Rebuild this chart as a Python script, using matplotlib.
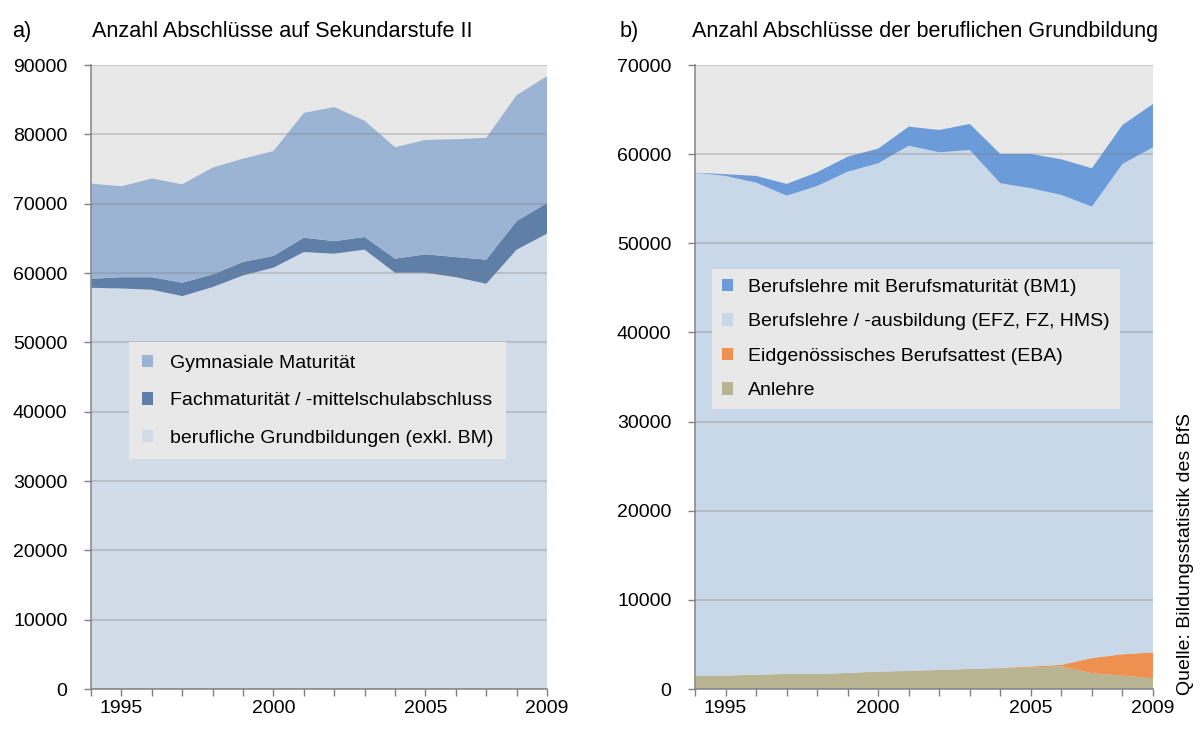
import matplotlib.pyplot as plt
import numpy as np

# Daten
jahre = list(range(1994, 2010))

# a) Sekundarstufe II - kumulierte Obergrenzen
beruf_top = [57870, 57770, 57590, 56670, 57970, 59650, 60770, 63030,
             62790, 63370, 60040, 60040, 59400, 58450, 63370, 65680]
fach_top = [59170, 59400, 59400, 58600, 59800, 61600, 62470, 65100,
            64600, 65200, 62070, 62700, 62300, 61920, 67500, 70100]
gym_top = [72900, 72500, 73630, 72800, 75200, 76500, 77600, 83100,
           83930, 81960, 78150, 79200, 79300, 79500, 85660, 88400]

# b) berufliche Grundbildung - Einzelwerte
anlehre = [1500, 1500, 1600, 1690, 1690, 1800, 1950, 2030,
           2140, 2250, 2330, 2400, 2560, 1770, 1500, 1200]
eba = [0, 0, 0, 0, 0, 0, 0, 0, 0, 0, 30, 120, 150, 1700, 2400, 2900]
lehre_top = [57930, 57560, 56810, 55350, 56430, 58040, 58980, 60950,
             60210, 60470, 56740, 56180, 55430, 54120, 58900, 60770]
bm1_top = [57930, 57750, 57560, 56660, 57970, 59720, 60620, 63090,
           62710, 63390, 60020, 60020, 59420, 58420, 63270, 65630]

x = np.array(jahre)
beruf = np.array(beruf_top)
fach = np.array(fach_top) - beruf
gym = np.array(gym_top) - np.array(fach_top)
lehre = np.array(lehre_top) - np.array(anlehre) - np.array(eba)
bm1 = np.array(bm1_top) - np.array(lehre_top)

plt.rcParams['font.family'] = ['Liberation Sans', 'DejaVu Sans']

fig = plt.figure(figsize=(12.01, 7.34), dpi=100)
ax1 = fig.add_axes([0.0758, 0.0613, 0.3797, 0.8501])
ax2 = fig.add_axes([0.5787, 0.0613, 0.3813, 0.8501])

fs_tick = 14
fs_leg = 14


def formatear(ax, ymax, ystep):
    ax.set_facecolor('#e8e8e8')
    ax.set_xlim(1994, 2009)
    ax.set_ylim(0, ymax)
    ax.set_yticks(range(0, ymax + 1, ystep))
    ax.set_xticks(jahre)
    ax.set_xticklabels([str(j) if j in (1995, 2000, 2005, 2009) else '' for j in jahre])
    ax.tick_params(axis='both', labelsize=fs_tick, direction='out', length=5,
                   color='#808080', width=1)
    ax.tick_params(axis='y', pad=12)
    ax.tick_params(axis='x', pad=3)
    ax.grid(axis='y', color='#7f7f7f', alpha=0.3, linewidth=1.5)
    ax.set_axisbelow(False)
    for s in ('top', 'right'):
        ax.spines[s].set_visible(False)
    for s in ('left', 'bottom'):
        ax.spines[s].set_color('#8c8c8c')
        ax.spines[s].set_linewidth(1.2)


def rahmen(leg):
    leg.get_frame().set_facecolor('#e8e8e8')
    leg.get_frame().set_edgecolor('none')
    leg.get_frame().set_alpha(1)


# Panel a
polys = ax1.stackplot(x, beruf, fach, gym,
                      colors=['#d1dce8', '#5f7fa8', '#9bb4d3'], linewidth=0)
formatear(ax1, 90000, 10000)
leg1 = ax1.legend([polys[2], polys[1], polys[0]],
                  ['Gymnasiale Maturität', 'Fachmaturität / -mittelschulabschluss',
                   'berufliche Grundbildungen (exkl. BM)'],
                  loc='upper left', bbox_to_anchor=(0.083, 0.556), borderaxespad=0,
                  fontsize=fs_leg, frameon=True, fancybox=False,
                  handlelength=0.6, handleheight=0.6, handletextpad=0.85,
                  labelspacing=1.05, borderpad=0.65)
rahmen(leg1)

fig.text(0.010, 0.950, 'a)', fontsize=15.6)
fig.text(0.077, 0.950, 'Anzahl Abschlüsse auf Sekundarstufe II', fontsize=15.6)

# Panel b
polys2 = ax2.stackplot(x, anlehre, eba, lehre, bm1,
                       colors=['#b9b593', '#ee9150', '#c9d8e8', '#6b9bd9'], linewidth=0)
formatear(ax2, 70000, 10000)
leg2 = ax2.legend([polys2[3], polys2[2], polys2[1], polys2[0]],
                  ['Berufslehre mit Berufsmaturität (BM1)',
                   'Berufslehre / -ausbildung (EFZ, FZ, HMS)',
                   'Eidgenössisches Berufsattest (EBA)', 'Anlehre'],
                  loc='upper left', bbox_to_anchor=(0.037, 0.673), borderaxespad=0,
                  fontsize=fs_leg, frameon=True, fancybox=False,
                  handlelength=0.6, handleheight=0.6, handletextpad=0.77,
                  labelspacing=0.9, borderpad=0.5)
rahmen(leg2)

fig.text(0.516, 0.950, 'b)', fontsize=15.6)
fig.text(0.576, 0.950, 'Anzahl Abschlüsse der beruflichen Grundbildung', fontsize=15.6)

fig.text(0.987, 0.053, 'Quelle: Bildungsstatistik des BfS', fontsize=14,
         rotation=90, ha='center', va='bottom')

plt.savefig('out.png', dpi=100)
